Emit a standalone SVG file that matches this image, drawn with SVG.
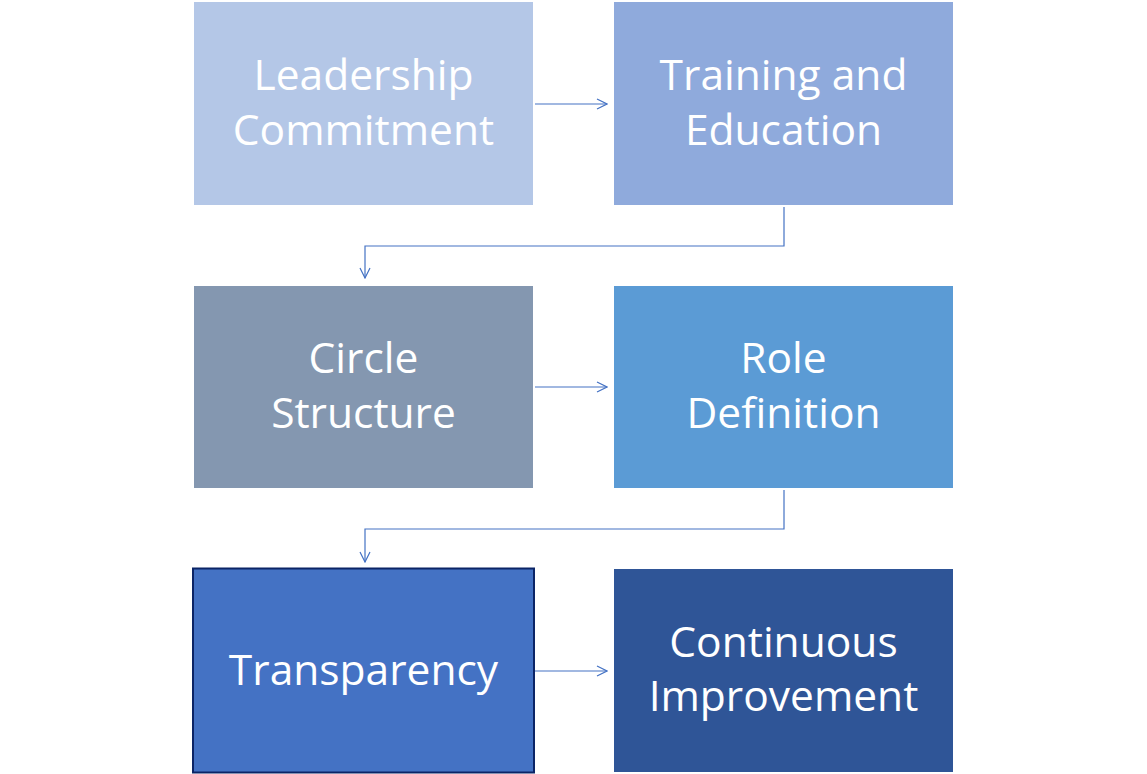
<svg xmlns="http://www.w3.org/2000/svg" width="1147" height="774" viewBox="0 0 1147 774">
<style>
.lbl{font-family:"Open Sans","Liberation Sans",sans-serif;font-size:42.5px;fill:#ffffff;text-anchor:middle}
.con{fill:none;stroke:#4472C4;stroke-width:1.2}
</style>
<defs>
<marker id="arr" viewBox="0 0 12 12" refX="11" refY="6" markerWidth="12" markerHeight="12" markerUnits="userSpaceOnUse" orient="auto">
<path d="M1,1 L11,6 L1,11" fill="none" stroke="#4472C4" stroke-width="1.2"/>
</marker>
</defs>
<rect width="1147" height="774" fill="#ffffff"/>
<g id="n1"><rect x="194" y="2" width="339" height="203" fill="#B4C7E7"/><text class="lbl" x="363.5" y="90">Leadership</text><text class="lbl" x="363.5" y="145">Commitment</text></g>
<g id="n2"><rect x="614" y="2" width="339" height="203" fill="#8FAADC"/><text class="lbl" x="783.5" y="90">Training and</text><text class="lbl" x="783.5" y="145">Education</text></g>
<g id="n3"><rect x="194" y="286" width="339" height="202" fill="#8497B0"/><text class="lbl" x="363.5" y="373">Circle</text><text class="lbl" x="363.5" y="428">Structure</text></g>
<g id="n4"><rect x="614" y="286" width="339" height="202" fill="#5B9BD5"/><text class="lbl" x="783.5" y="373">Role</text><text class="lbl" x="783.5" y="428">Definition</text></g>
<g id="n5"><rect x="193" y="568.5" width="341" height="204" fill="#4472C4" stroke="#0B2466" stroke-width="2"/><text class="lbl" x="363.5" y="685">Transparency</text></g>
<g id="n6"><rect x="614" y="569" width="339" height="203" fill="#2F5597"/><text class="lbl" x="783.5" y="657">Continuous</text><text class="lbl" x="783.5" y="711">Improvement</text></g>
<g id="connectors">
<path class="con" d="M535,104 H607" marker-end="url(#arr)"/>
<path class="con" d="M784,207 V246 H365 V278" marker-end="url(#arr)"/>
<path class="con" d="M535,387 H607" marker-end="url(#arr)"/>
<path class="con" d="M784,490 V529 H365 V562" marker-end="url(#arr)"/>
<path class="con" d="M535,671 H607" marker-end="url(#arr)"/>
</g>
</svg>
